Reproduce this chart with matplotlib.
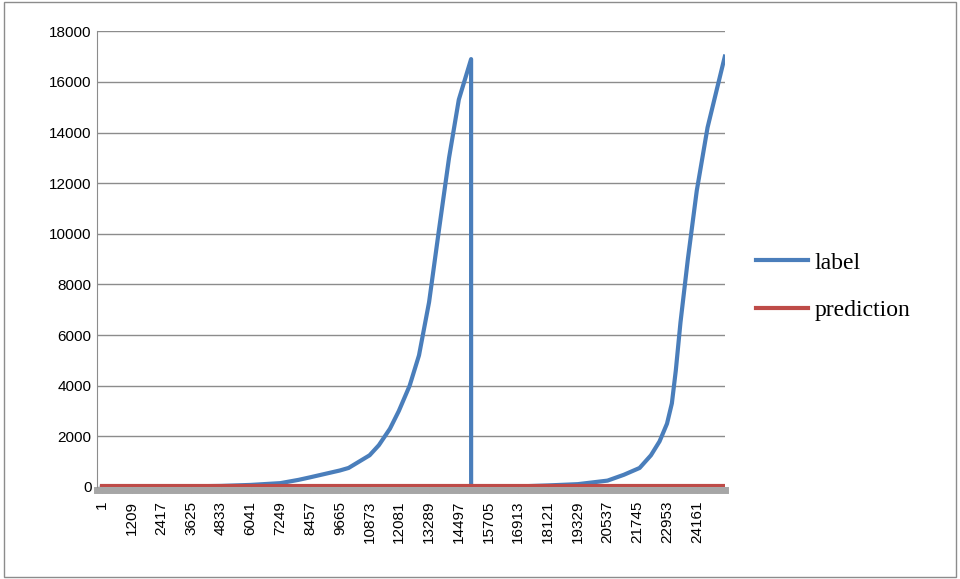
import matplotlib.pyplot as plt
from matplotlib.patches import Rectangle

# label series (sample index, value)
label_x = [1, 2417, 4833, 6041, 7249, 7990, 8457, 9665, 10020, 10873, 11250,
           11700, 12060, 12500, 12880, 13289, 13690, 14100, 14497, 14996,
           14997, 16913, 18121, 19329, 20537, 21200, 21840, 22300, 22650, 22953,
           23150, 23310, 23500, 23800, 24161, 24600, 25300]
label_y = [0, 10, 40, 80, 150, 280, 380, 650, 750, 1250, 1650,
           2300, 3000, 4000, 5200, 7300, 10150, 13000, 15300, 16900,
           0, 20, 60, 110, 250, 480, 750, 1250, 1800, 2500,
           3300, 4600, 6500, 9000, 11700, 14200, 17000]
pred_x = [1, 25300]
pred_y = [30, 30]

tick_pos = [1, 1209, 2417, 3625, 4833, 6041, 7249, 8457, 9665, 10873, 12081,
            13289, 14497, 15705, 16913, 18121, 19329, 20537, 21745, 22953, 24161]
y_ticks = [0, 2000, 4000, 6000, 8000, 10000, 12000, 14000, 16000, 18000]

fig = plt.figure(figsize=(9.6, 5.79), dpi=100)
fig.patches.append(Rectangle((0.004, 0.004), 0.992, 0.992, transform=fig.transFigure,
                             fill=False, edgecolor='#8c8c8c', linewidth=1))
ax = fig.add_axes([0.101, 0.159, 0.654, 0.787])

ax.plot(label_x, label_y, color='#4a7ebb', linewidth=3, label='label', zorder=3)
ax.plot(pred_x, pred_y, color='#be4b48', linewidth=3, label='prediction', zorder=4)
ax.axhline(-130, color='#a6a6a6', linewidth=5, zorder=2, clip_on=False)

ax.set_xlim(-200, 25300)
ax.set_ylim(0, 18000)
ax.set_yticks(y_ticks)
ax.set_xticks(tick_pos)
ax.set_xticklabels([str(t) for t in tick_pos], rotation=90, family='Liberation Sans', fontsize=11)
for t in ax.get_yticklabels():
    t.set_family('Liberation Sans')
    t.set_fontsize(11)
ax.grid(axis='y', color='#8c8c8c', linewidth=1)
ax.set_axisbelow(True)
for s in ['top', 'right', 'bottom']:
    ax.spines[s].set_visible(False)
ax.spines['left'].set_color('#8c8c8c')
ax.tick_params(axis='both', length=0, pad=4)
ax.tick_params(axis='x', length=4, color='#8c8c8c', pad=6)

fig.legend(loc='center left', bbox_to_anchor=(0.765, 0.505), frameon=False,
           prop={'family': 'Liberation Serif', 'size': 17}, handlelength=2.2,
           labelspacing=1.1, handletextpad=0.3)

fig.savefig('out.png', dpi=100)
